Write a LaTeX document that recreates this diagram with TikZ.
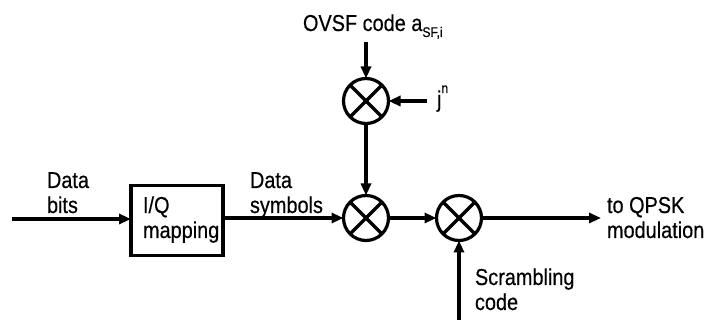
\documentclass[tikz,border=0pt]{standalone}
\usepackage{fontspec}
\setmainfont{Liberation Sans}[FakeStretch=0.865,FakeBold=0.4]
\usetikzlibrary{arrows.meta}
\begin{document}
\begin{tikzpicture}[x=1pt,y=-1pt,
  line width=3.2pt,
  every node/.style={inner sep=0pt, outer sep=0pt},
  lbl/.style={anchor=base west, align=left, font=\fontsize{23}{25}\selectfont},
  arr/.style={-{Triangle[length=12pt,width=10pt]}, line width=3.2pt},
  mult/.style={circle, draw, minimum size=45pt, line width=3.2pt,
    path picture={
      \draw[line width=3.2pt] (path picture bounding box.north west) -- (path picture bounding box.south east);
      \draw[line width=3.2pt] (path picture bounding box.north east) -- (path picture bounding box.south west);
    }},
  blk/.style={draw, line width=3.2pt}
]
\useasboundingbox (0,0) rectangle (710,320);

% nodes
\node[mult] (m0) at (366,101) {};
\node[mult] (m1) at (366,218) {};
\node[mult] (m2) at (459,218) {};
\node[blk, minimum width=92pt, minimum height=70pt] (map) at (177,220.5) {};

\coordinate (in) at (12,219);
\coordinate (out) at (601,218);
\coordinate (scr) at (459,322);
\coordinate (ovsf) at (366,42);
\coordinate (jn) at (427,101);

% labels (base anchor = baseline of last line)
\node[lbl] (tbits) at (47,213) {Data\\bits};
\node[lbl] (tmap) at (143,238) {I/Q\\mapping};
\node[lbl] (tsym) at (250,213) {Data\\symbols};
\node[lbl] (tqpsk) at (607,238) {to QPSK\\modulation};
\node[lbl] (tscr) at (475,310) {Scrambling\\code};
\node[lbl] (tovsf) at (303,31) {OVSF code a\raisebox{-6pt}{\fontsize{14}{14}\selectfont SF,i}};
\node[lbl] (tj) at (437,107) {j\raisebox{14pt}{\fontsize{14}{14}\selectfont n}};

% connectors
\draw[arr] (in) -- (map.west |- in);
\draw[arr] (map.east |- m1) -- (m1.west);
\draw[arr] (m1.east) -- (m2.west);
\draw[arr] (m2.east) -- (out);
\draw[arr] (scr) -- (m2.south);
\draw[arr] (ovsf) -- (m0.north);
\draw[arr] (jn) -- (m0.east);
\draw[arr] (m0.south) -- (m1.north);
\end{tikzpicture}
\end{document}
